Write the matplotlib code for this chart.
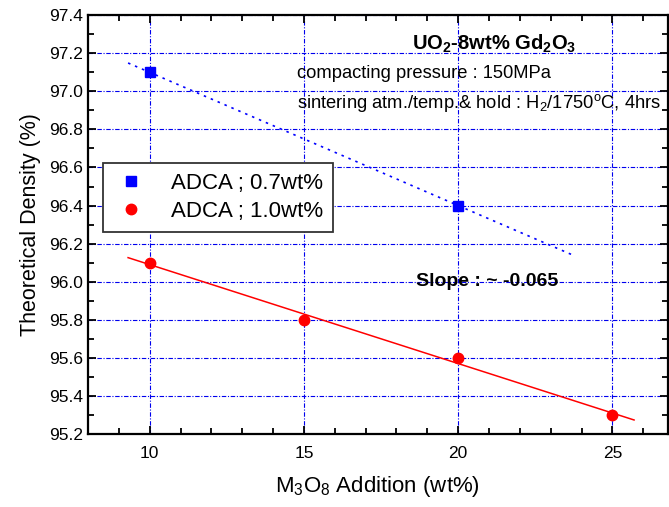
import numpy as np
import matplotlib
matplotlib.use('Agg')
import matplotlib.pyplot as plt
from matplotlib.ticker import MultipleLocator

plt.rcParams['font.family'] = ['Liberation Sans', 'DejaVu Sans']
plt.rcParams['mathtext.fontset'] = 'custom'
plt.rcParams['mathtext.rm'] = 'Liberation Sans'
plt.rcParams['mathtext.bf'] = 'Liberation Sans:bold'

# 데이터
x_07 = [10, 20]
y_07 = [97.1, 96.4]
x_10 = [10, 15, 20, 25]
y_10 = [96.1, 95.8, 95.6, 95.3]
fit_range_07 = [9.3, 23.8]
fit_range_10 = [9.3, 25.7]

fig = plt.figure(figsize=(6.69, 5.07), dpi=100)
ax = fig.add_axes([0.1315, 0.144, 0.867, 0.826])

ax.set_xlim(8, 26.8)
ax.set_ylim(95.2, 97.4)

# grid
ax.xaxis.set_major_locator(MultipleLocator(5))
ax.xaxis.set_minor_locator(MultipleLocator(1))
ax.yaxis.set_major_locator(MultipleLocator(0.2))
ax.yaxis.set_minor_locator(MultipleLocator(0.1))
ax.grid(True, which='major', color='#0000ee', linestyle=(0, (4, 1.5, 1, 1.5)), linewidth=0.8)
ax.set_axisbelow(True)

# fits
p07 = np.polyfit(x_07, y_07, 1)
p10 = np.polyfit(x_10, y_10, 1)
fx07 = np.array(fit_range_07)
fx10 = np.array(fit_range_10)
ax.plot(fx07, np.polyval(p07, fx07), color='#0000ff', linestyle=(0, (1.5, 3)), linewidth=1.2)
ax.plot(fx10, np.polyval(p10, fx10), color='#ff0000', linewidth=1.1)

ax.plot(x_07, y_07, 's', color='#0000ff', markersize=6.5, label='ADCA ; 0.7wt%', zorder=5)
ax.plot(x_10, y_10, 'o', color='#ff0000', markersize=7.5, label='ADCA ; 1.0wt%', zorder=5)

ax.tick_params(which='both', direction='in', top=True, right=True, labelsize=12.5, width=1.3)
ax.tick_params(which='major', length=6)
ax.tick_params(which='minor', length=4)
ax.tick_params(axis='x', pad=9)
ax.yaxis.set_major_formatter(plt.FormatStrFormatter('%.1f'))
for s in ax.spines.values():
    s.set_linewidth(1.6)

ax.set_xlabel('M$_3$O$_8$ Addition (wt%)', fontsize=16, labelpad=9)
ax.set_ylabel('Theoretical Density (%)', fontsize=15.5, labelpad=6)

leg = ax.legend(loc='upper left', bbox_to_anchor=(0.026, 0.647), borderaxespad=0, fontsize=16,
                fancybox=False, edgecolor='#333333', framealpha=1,
                handletextpad=1.0, borderpad=0.45, handlelength=1.6, labelspacing=0.3)
leg.get_frame().set_linewidth(1.3)

ax.text(0.701, 0.932, r'UO$_\mathbf{2}$-8wt% Gd$_\mathbf{2}$O$_\mathbf{3}$', transform=ax.transAxes,
        fontsize=14.5, fontweight='bold', ha='center', va='center')
ax.text(0.36, 0.862, 'compacting pressure : 150MPa', transform=ax.transAxes,
        fontsize=13.2, ha='left', va='center')
ax.text(0.36, 0.79, 'sintering atm./temp.& hold : H$_2$/1750$^\\mathrm{o}$C, 4hrs', transform=ax.transAxes,
        fontsize=13.2, ha='left', va='center')
ax.text(0.565, 0.365, 'Slope : ~ -0.065', transform=ax.transAxes,
        fontsize=14, fontweight='bold', ha='left', va='center')

fig.savefig('out.png', dpi=100)
